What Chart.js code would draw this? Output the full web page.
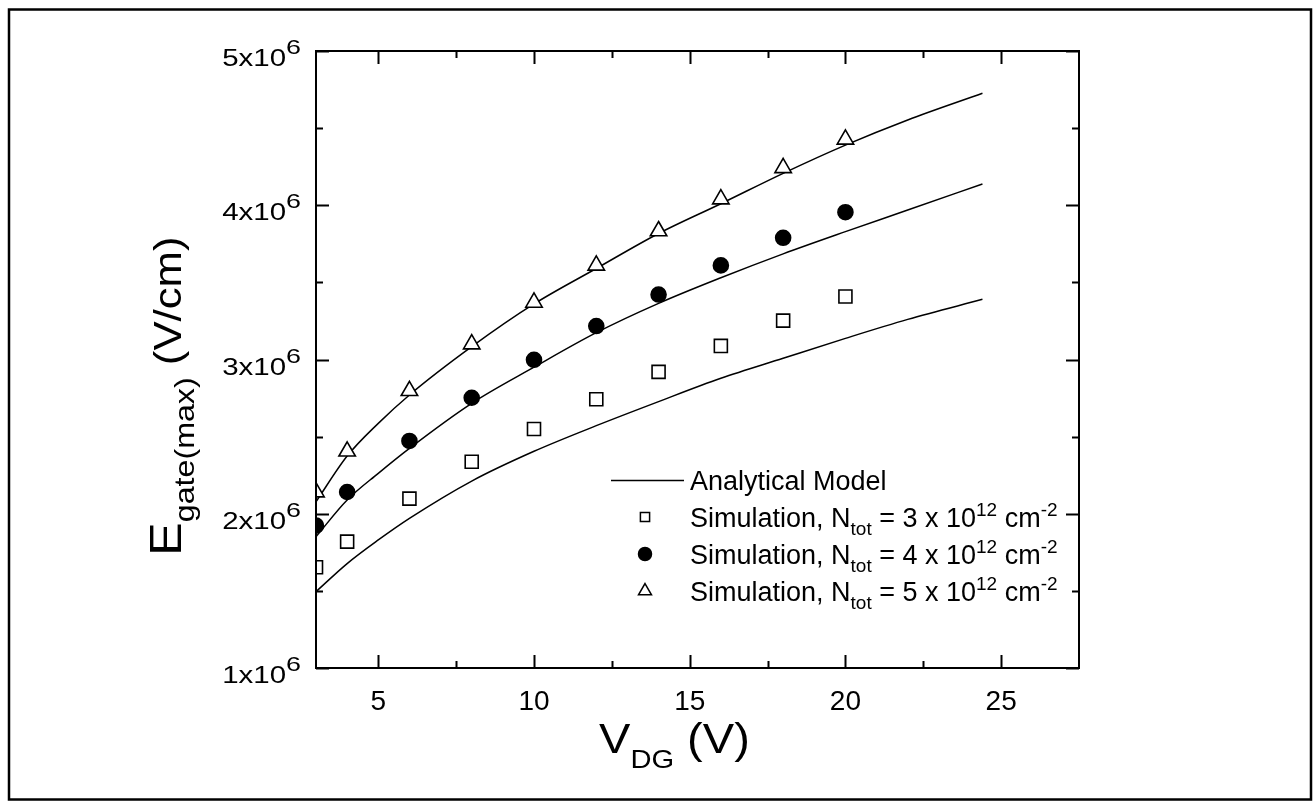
<!DOCTYPE html>
<html><head><meta charset="utf-8">
<script src="https://cdn.jsdelivr.net/npm/chart.js@4.4.1/dist/chart.umd.min.js"></script>
<style>html,body{margin:0;padding:0;background:#fff;} canvas{display:block;}</style>
</head><body>
<canvas id="c" width="1313" height="802"></canvas>
<script>
// ---- data (V_DG in volts, E in V/cm) ----
const vdgSim = [3, 4, 6, 8, 10, 12, 14, 16, 18, 20];
const simN3 = [1.653e6, 1.819e6, 2.098e6, 2.337e6, 2.549e6, 2.742e6, 2.920e6, 3.088e6, 3.252e6, 3.408e6];
const simN4 = [1.923e6, 2.141e6, 2.472e6, 2.752e6, 2.998e6, 3.217e6, 3.421e6, 3.610e6, 3.789e6, 3.955e6];
const simN5 = [2.140e6, 2.405e6, 2.797e6, 3.100e6, 3.370e6, 3.610e6, 3.833e6, 4.040e6, 4.242e6, 4.427e6];
const vdgModel = [3, 4, 5, 6, 8, 10, 12, 14, 16, 18, 20, 22, 24.4];
const modelN3 = [1.495e6, 1.677e6, 1.830e6, 1.970e6, 2.212e6, 2.405e6, 2.571e6, 2.727e6, 2.878e6, 3.008e6, 3.137e6, 3.260e6, 3.390e6];
const modelN4 = [1.851e6, 2.089e6, 2.262e6, 2.424e6, 2.716e6, 2.950e6, 3.174e6, 3.364e6, 3.530e6, 3.685e6, 3.829e6, 3.969e6, 4.138e6];
const modelN5 = [2.078e6, 2.374e6, 2.586e6, 2.770e6, 3.083e6, 3.360e6, 3.590e6, 3.817e6, 4.010e6, 4.207e6, 4.390e6, 4.553e6, 4.726e6];
const xMajorTicks = [5, 10, 15, 20, 25];
const xMinorTicks = [7.5, 12.5, 17.5, 22.5];
const yMajorTicks = [1e6, 2e6, 3e6, 4e6, 5e6];
const yMinorTicks = [1.5e6, 2.5e6, 3.5e6, 4.5e6];
const yTickMantissa = ['1x10', '2x10', '3x10', '4x10', '5x10'];
const yTickExponent = ['6', '6', '6', '6', '6'];
const legendDensity = ['3', '4', '5'];

const FONT = '"Liberation Sans", Arial, Helvetica, sans-serif';
const toXY = (xs, ys) => xs.map((x, i) => ({x: x, y: ys[i]}));

function drawRich(ctx, x, y, parts, align, stretch) {
  let widths = parts.map(p => { ctx.font = p.size + 'px ' + FONT; return ctx.measureText(p.t).width * stretch; });
  let total = widths.reduce((a, b) => a + b, 0);
  let cx = align === 'right' ? x - total : (align === 'center' ? x - total / 2 : x);
  parts.forEach((p, i) => {
    ctx.save();
    ctx.font = p.size + 'px ' + FONT;
    ctx.textAlign = 'left';
    ctx.textBaseline = 'alphabetic';
    ctx.translate(cx, y + (p.dy || 0));
    ctx.scale(stretch, 1);
    ctx.fillText(p.t, 0, 0);
    ctx.restore();
    cx += widths[i];
  });
  return total;
}

const decor = {
  id: 'decor',
  afterDraw(chart) {
    const ctx = chart.ctx;
    const {left, right, top, bottom} = chart.chartArea;
    const xs = chart.scales.x, ys = chart.scales.y;
    ctx.save();
    ctx.strokeStyle = '#000';
    ctx.fillStyle = '#000';
    ctx.lineWidth = 2;
    ctx.strokeRect(left, top, right - left, bottom - top);
    ctx.beginPath();
    const tick = (arr, len) => arr.forEach(v => {
      const px = Math.round(xs.getPixelForValue(v)) + 0.5;
      ctx.moveTo(px, bottom); ctx.lineTo(px, bottom - len);
      ctx.moveTo(px, top); ctx.lineTo(px, top + len);
    });
    const ytick = (arr, len) => arr.forEach(v => {
      const py = Math.round(ys.getPixelForValue(v)) + 0.5;
      ctx.moveTo(left, py); ctx.lineTo(left + len, py);
      ctx.moveTo(right, py); ctx.lineTo(right - len, py);
    });
    tick(xMajorTicks, 13); tick(xMinorTicks, 7);
    ytick(yMajorTicks, 13); ytick(yMinorTicks, 7);
    ctx.stroke();

    xMajorTicks.forEach(v => {
      drawRich(ctx, xs.getPixelForValue(v), bottom + 42, [{t: String(v), size: 28}], 'center', 1.0);
    });
    yMajorTicks.forEach((v, i) => {
      const py = ys.getPixelForValue(v);
      drawRich(ctx, 301, py + 15, [{t: yTickMantissa[i], size: 23, dy: 0}, {t: yTickExponent[i], size: 21, dy: -12}], 'right', 1.28);
    });
    drawRich(ctx, 599, 753, [{t: 'V', size: 42, dy: 0}, {t: 'DG', size: 26, dy: 15}, {t: ' (V)', size: 42, dy: 0}], 'left', 1.12);
    ctx.save();
    ctx.translate(181, 556);
    ctx.rotate(-Math.PI / 2);
    drawRich(ctx, 0, 0, [{t: 'E', size: 44, dy: 0}, {t: 'gate(max)', size: 28, dy: 13}, {t: ' (V/cm)', size: 38, dy: 0}], 'left', 1.15);
    ctx.restore();

    const lx = 645, tx = 690;
    const rows = [480, 517, 554, 591];
    ctx.lineWidth = 1.5;
    ctx.beginPath(); ctx.moveTo(611, rows[0] + 0.5); ctx.lineTo(684, rows[0] + 0.5); ctx.stroke();
    drawRich(ctx, tx, rows[0] + 10, [{t: 'Analytical Model', size: 27}], 'left', 1.0);
    const styles = ['rect', 'circle', 'triangle'];
    const fills = ['#fff', '#000', '#fff'];
    const radii = [6.5, 6.5, 7.5];
    for (let k = 0; k < 3; k++) {
      const y = rows[k + 1];
      ctx.save();
      ctx.fillStyle = fills[k]; ctx.strokeStyle = '#000'; ctx.lineWidth = 1.5;
      Chart.helpers.drawPoint(ctx, {pointStyle: styles[k], radius: radii[k], rotation: 0, borderWidth: 1.5}, lx, y);
      ctx.restore();
      drawRich(ctx, tx, y + 10, [
        {t: 'Simulation, N', size: 27, dy: 0},
        {t: 'tot', size: 19, dy: 8},
        {t: ' = ' + legendDensity[k] + ' x 10', size: 27, dy: 0},
        {t: '12', size: 19, dy: -11},
        {t: ' cm', size: 27, dy: 0},
        {t: '-2', size: 19, dy: -11}
      ], 'left', 1.0);
    }

    ctx.lineWidth = 2.5;
    ctx.strokeRect(9, 9.5, 1302, 790);
    ctx.restore();
  }
};

const lineDs = (ys) => ({
  data: toXY(vdgModel, ys), showLine: true, borderColor: '#000', borderWidth: 1.5,
  pointRadius: 0, cubicInterpolationMode: 'monotone', fill: false, order: 2
});
const markDs = (ys, style, r, bg) => ({
  data: toXY(vdgSim, ys), showLine: false, pointStyle: style, pointRadius: r,
  pointBackgroundColor: bg, pointBorderColor: '#000', pointBorderWidth: 1.6, clip: 0, order: 1
});

new Chart(document.getElementById('c'), {
  type: 'scatter',
  data: {
    datasets: [
      lineDs(modelN3), lineDs(modelN4), lineDs(modelN5),
      markDs(simN3, 'rect', 9.2, '#fff'),
      markDs(simN4, 'circle', 7.5, '#000'),
      markDs(simN5, 'triangle', 9.5, '#fff')
    ]
  },
  options: {
    responsive: false, animation: false, events: [],
    layout: {padding: {top: 51, right: 234, left: 0, bottom: 0}},
    plugins: {legend: {display: false}, tooltip: {enabled: false}},
    scales: {
      x: {type: 'linear', min: 3, max: 27.5, grid: {display: false}, border: {display: false},
          ticks: {display: false}, afterFit(s) { s.height = 134; }},
      y: {type: 'linear', min: 1e6, max: 5e6, grid: {display: false}, border: {display: false},
          ticks: {display: false}, afterFit(s) { s.width = 316; }}
    }
  },
  plugins: [decor]
});
</script>
</body></html>
